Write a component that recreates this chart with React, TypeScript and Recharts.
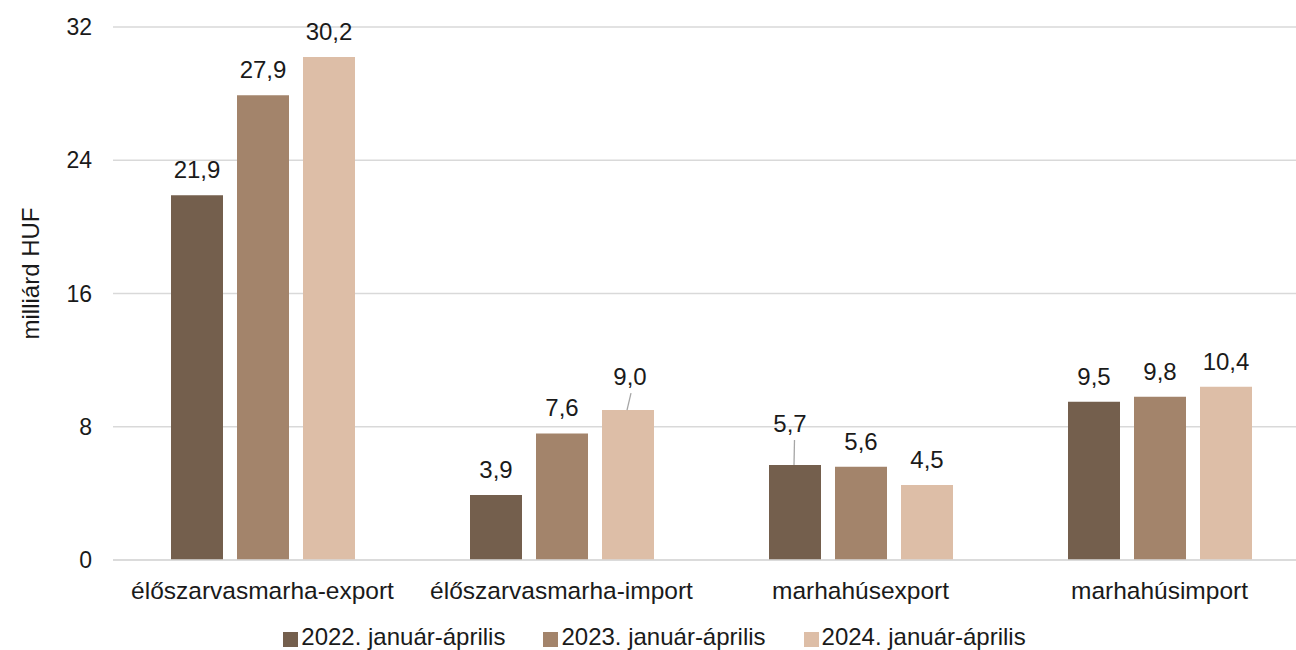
import React from 'react';
import { BarChart, Bar, XAxis, YAxis, CartesianGrid, Legend, LabelList } from 'recharts';

const categories = ['élőszarvasmarha-export', 'élőszarvasmarha-import', 'marhahúsexport', 'marhahúsimport'];
const values2022 = [21.9, 3.9, 5.7, 9.5];
const values2023 = [27.9, 7.6, 5.6, 9.8];
const values2024 = [30.2, 9.0, 4.5, 10.4];
const seriesNames = ['2022. január-április', '2023. január-április', '2024. január-április'];
const yTicks = [0, 8, 16, 24, 32];
const yAxisTitle = 'milliárd HUF';

const COLORS = ['#745F4D', '#A3846B', '#DDBEA7'];
const FONT = "'Liberation Sans', Arial, sans-serif";
const FS = 24;

// extra lift (px) for labels drawn with a leader line
const LABEL_LIFT: Record<string, number> = {
  'marhahúsexport|s0': 16,
  'élőszarvasmarha-import|s2': 8,
};
const LABEL_SHIFT_X: Record<string, number> = {
  'marhahúsexport|s0': -5,
  'élőszarvasmarha-import|s2': 2,
};

const data = categories.map((c, i) => ({
  category: c,
  s0: values2022[i],
  s1: values2023[i],
  s2: values2024[i],
}));

const fmt = (v: number) => v.toFixed(1).replace('.', ',');

const makeLabel = (key: string) => (props: any) => {
  const { x, y, width, value, index } = props;
  const cat = categories[index];
  const k = `${cat}|${key}`;
  const lift = LABEL_LIFT[k] || 0;
  const shift = LABEL_SHIFT_X[k] || 0;
  const cx = Number(x) + Number(width) / 2;
  const top = Number(y);
  const baseline = top - 17 - lift;
  return (
    <g>
      {lift > 0 && (
        <line
          x1={cx - 1}
          y1={top}
          x2={cx + shift / 2 + 2}
          y2={baseline + 8}
          stroke="#a6a6a6"
          strokeWidth={1.3}
        />
      )}
      <text
        x={cx + shift}
        y={baseline}
        textAnchor="middle"
        fontFamily={FONT}
        fontSize={FS}
        fill="#1a1a1a"
      >
        {fmt(Number(value))}
      </text>
    </g>
  );
};

const renderLegend = (props: any) => {
  const payload = props.payload || [];
  return (
    <div
      style={{
        display: 'flex',
        justifyContent: 'center',
        alignItems: 'center',
        height: 40,
        paddingTop: 14,
        boxSizing: 'border-box',
        fontFamily: FONT,
        fontSize: FS,
        color: '#1a1a1a',
      }}
    >
      {payload.map((p: any, i: number) => (
        <div key={i} style={{ display: 'flex', alignItems: 'center', marginLeft: i === 0 ? 0 : 38 }}>
          <span style={{ display: 'inline-block', width: 15, height: 15, background: p.color, marginRight: 3, marginTop: 4 }} />
          <span style={{ lineHeight: '24px' }}>{p.value}</span>
        </div>
      ))}
    </div>
  );
};

const YTitle = (props: any) => {
  const vb = props.viewBox || { x: 0, y: 0, width: 0, height: 0 };
  const cx = vb.x + 30;
  const cy = vb.y + vb.height / 2 - 20;
  return (
    <text
      x={cx}
      y={cy}
      transform={`rotate(-90, ${cx}, ${cy})`}
      textAnchor="middle"
      dominantBaseline="central"
      fontFamily={FONT}
      fontSize={FS}
      fill="#1a1a1a"
    >
      {yAxisTitle}
    </text>
  );
};

export default function App() {
  return (
    <div
      style={{
        position: 'fixed',
        top: 0,
        left: 0,
        width: 1296,
        height: 650,
        overflow: 'hidden',
        background: '#fff',
      }}
    >
      <BarChart
        width={1322}
        height={650}
        data={data}
        margin={{ top: 27, right: 13, left: 0, bottom: 0 }}
        barGap={14}
        barSize={52}
      >
        <CartesianGrid horizontal vertical={false} stroke="#d9d9d9" strokeWidth={1.5} />
        <XAxis
          dataKey="category"
          height={50}
          axisLine={{ stroke: '#d9d9d9', strokeWidth: 1.5 }}
          tickLine={false}
          tickSize={6}
          tickMargin={16}
          tick={{ fontFamily: FONT, fontSize: 24.5, fill: '#1a1a1a' }}
          interval={0}
        />
        <YAxis
          width={113}
          domain={[0, 32]}
          ticks={yTicks}
          axisLine={false}
          tickLine={false}
          tickSize={0}
          tickMargin={21}
          tick={{ fontFamily: FONT, fontSize: 23, fill: '#1a1a1a' }}
          label={<YTitle />}
        />
        <Legend verticalAlign="bottom" height={40} content={renderLegend} />
        {['s0', 's1', 's2'].map((k, i) => (
          <Bar key={k} dataKey={k} name={seriesNames[i]} fill={COLORS[i]} isAnimationActive={false}>
            <LabelList dataKey={k} content={makeLabel(k)} />
          </Bar>
        ))}
      </BarChart>
    </div>
  );
}
